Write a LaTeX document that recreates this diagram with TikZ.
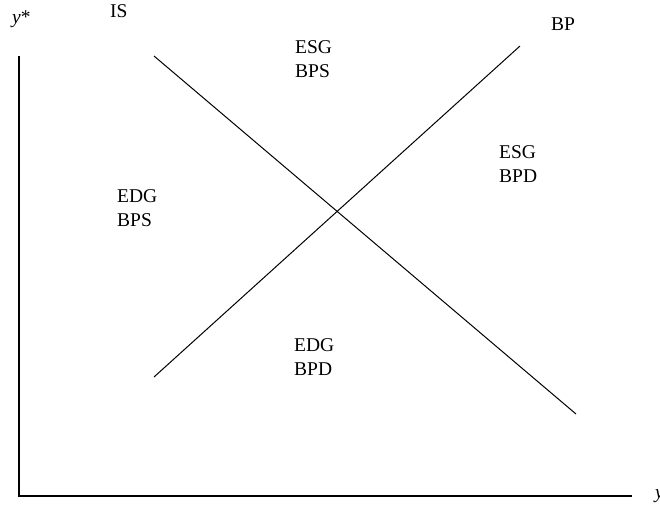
\documentclass[tikz,border=0pt]{standalone}
\usepackage{fontspec}
\setmainfont{Liberation Serif}
\usepackage{tikz}
\usetikzlibrary{positioning,calc}

\tikzset{
    curve/.style={line width=1pt},
    axis/.style={line width=1.1pt},
    lbl/.style={inner sep=0pt, anchor=base west, align=left,
        font=\fontsize{19.5}{24}\selectfont},
}

\begin{document}
\begin{tikzpicture}[x=1pt, y=-1pt]
    \useasboundingbox (0,0) rectangle (660,504);

    % axes
    \coordinate (ytop) at (19,56);
    \coordinate (origin) at (19,496);
    \coordinate (xend) at (632,496);
    \draw[axis] (ytop) -- (origin) -- (xend);
    \node[lbl] (ylab) at (12,23) {\textit{y}*};
    \node[lbl] (xlab) at (655,498) {\textit{y}};

    % IS and BP schedules
    \coordinate (is1) at (154,56);
    \coordinate (is2) at (576,414);
    \coordinate (bp1) at (154,377);
    \coordinate (bp2) at (520,46);
    \draw[curve] (is1) -- (is2);
    \draw[curve] (bp1) -- (bp2);
    \node[lbl] (islab) at (110,17) {IS};
    \node[lbl] (bplab) at (551,30) {BP};

    % regions (base = baseline of the second line)
    \node[lbl] (north) at (295,77) {ESG\\BPS};
    \node[lbl] (east) at (499,182) {ESG\\BPD};
    \node[lbl] (west) at (117,226) {EDG\\BPS};
    \node[lbl] (south) at (294,375) {EDG\\BPD};
\end{tikzpicture}
\end{document}
